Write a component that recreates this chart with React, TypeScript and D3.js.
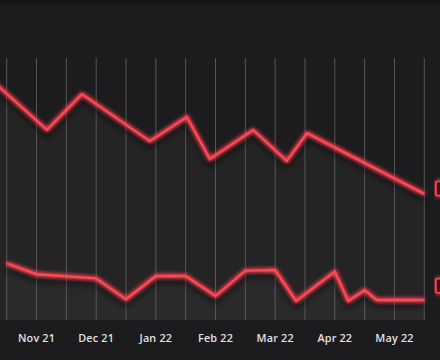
import React from "react";
import * as d3 from "d3";

// x positions are in half-month periods (0 = mid Oct 21, 14 = mid May 22)
const topPeriods = [-0.45, 1.35, 2.52, 4.8, 6.04, 6.81, 8.26, 9.39, 10.07, 14.0];
const topValues = [91.7, 73.1, 86.9, 68.8, 78.1, 61.9, 73.1, 61.2, 71.9, 48.5];

const bottomPeriods = [0, 1, 3, 4, 5, 6, 7, 8, 9, 9.7, 11, 11.45, 12, 12.4, 14];
const bottomValues = [21.8, 17.6, 16.0, 8.0, 16.9, 16.9, 9.2, 19.0, 19.2, 7.3, 18.6, 7.3, 11.5, 7.7, 7.7];

// end-of-series value badges (clipped at the right edge)
const badgeValues = [50.6, 13.2];

const gridPeriods = d3.range(0, 15);
const tickPeriods = [1, 3, 5, 7, 9, 11, 13];
const tickLabels = ["Nov 21", "Dec 21", "Jan 22", "Feb 22", "Mar 22", "Apr 22", "May 22"];

const W = 440;
const H = 360;
const plotTop = 58;
const plotBottom = 320;

export default function App() {
  if (typeof document !== "undefined") {
    document.body.style.margin = "0";
    document.body.style.background = "#1c1c1e";
  }
  const x = d3.scaleLinear().domain([0, 14]).range([6.7, 424.3]);
  const y = d3.scaleLinear().domain([0, 100]).range([320, 60]);

  const topData = topPeriods.map((p, i) => [p, topValues[i]] as [number, number]);
  const botData = bottomPeriods.map((p, i) => [p, bottomValues[i]] as [number, number]);

  const line = d3
    .line<[number, number]>()
    .x((d) => x(d[0]))
    .y((d) => y(d[1]));
  const area = d3
    .area<[number, number]>()
    .x((d) => x(d[0]))
    .y0(plotBottom)
    .y1((d) => y(d[1]));

  const red = "#ff4755";

  return (
    <svg width={W} height={H} style={{ position: "absolute", left: 0, top: 0, display: "block" }}>
      <defs>
        <filter id="glow" x="-10%" y="-50%" width="120%" height="200%">
          <feGaussianBlur in="SourceGraphic" stdDeviation="2.2" result="b" />
          <feMerge>
            <feMergeNode in="b" />
            <feMergeNode in="b" />
            <feMergeNode in="SourceGraphic" />
          </feMerge>
        </filter>
        <filter id="shadow" x="-10%" y="-50%" width="120%" height="200%">
          <feGaussianBlur stdDeviation="3" />
        </filter>
        <linearGradient id="topStrip" x1="0" y1="0" x2="0" y2="1">
          <stop offset="0" stopColor="#131315" />
          <stop offset="1" stopColor="#1c1c1e" />
        </linearGradient>
        <clipPath id="plotClip">
          <rect x={0} y={plotTop - 40} width={430} height={plotBottom - plotTop + 40} />
        </clipPath>
      </defs>
      <rect x={0} y={0} width={W} height={H} fill="#1c1c1e" />
      <rect x={0} y={0} width={W} height={8} fill="url(#topStrip)" />

      <g clipPath="url(#plotClip)">
        <path d={area(topData) || ""} fill="#ffffff" fillOpacity={0.035} />
        <path d={area(botData) || ""} fill="#ffffff" fillOpacity={0.03} />
      </g>

      {gridPeriods.map((p) => (
        <line
          key={p}
          x1={x(p)}
          x2={x(p)}
          y1={plotTop}
          y2={plotBottom}
          stroke="#6a6a6c"
          strokeWidth={1}
          strokeOpacity={0.75}
        />
      ))}

      <g clipPath="url(#plotClip)">
        {[topData, botData].map((data, i) => (
          <g key={i}>
            <path
              d={line(data) || ""}
              fill="none"
              stroke="#000"
              strokeOpacity={0.55}
              strokeWidth={5}
              transform="translate(0,5)"
              filter="url(#shadow)"
            />
            <path
              d={line(data) || ""}
              fill="none"
              stroke={red}
              strokeWidth={2.4}
              strokeLinejoin="miter"
              filter="url(#glow)"
            />
          </g>
        ))}
      </g>

      {badgeValues.map((v, i) => (
        <rect
          key={i}
          x={436}
          y={y(v) - 7}
          width={20}
          height={14}
          rx={1.5}
          fill="#2a1c1e"
          stroke={red}
          strokeWidth={1.6}
          filter="url(#glow)"
        />
      ))}

      {tickPeriods.map((p, i) => (
        <text
          key={p}
          x={x(p)}
          y={342}
          textAnchor="middle"
          fill="#e2e2e2"
          fontFamily="'Open Sans', 'Noto Sans', sans-serif"
          fontSize={10.8}
          fontWeight={600}
          letterSpacing={0.2}
        >
          {tickLabels[i]}
        </text>
      ))}
    </svg>
  );
}
